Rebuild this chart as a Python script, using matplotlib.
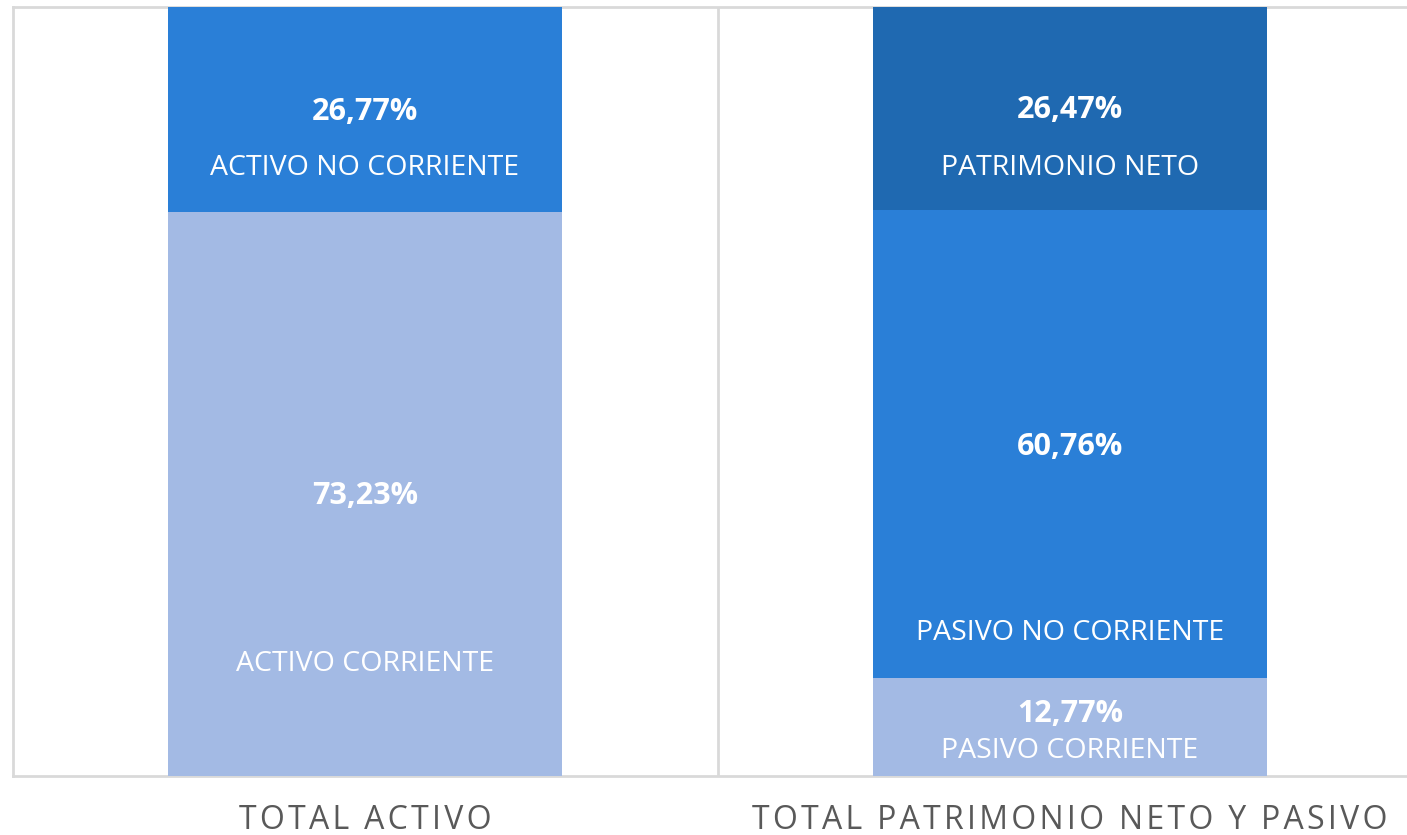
import matplotlib.pyplot as plt
import numpy as np

plt.rcParams['font.family'] = ['Open Sans', 'DejaVu Sans']

# data
categories = ['TOTAL ACTIVO', 'TOTAL PATRIMONIO NETO Y PASIVO']
bottom_vals = [73.23, 12.77]
middle_vals = [26.77, 60.76]
top_vals = [0.0, 26.47]

seg_names = [
    ['ACTIVO CORRIENTE', 'ACTIVO NO CORRIENTE', ''],
    ['PASIVO CORRIENTE', 'PASIVO NO CORRIENTE', 'PATRIMONIO NETO'],
]

c_light = '#A3BAE4'
c_mid = '#2A7FD7'
c_dark = '#1F69B1'
c_grid = '#D9D9D9'

fig = plt.figure(figsize=(14.07, 8.35), dpi=100)
ax = fig.add_axes([12.5 / 1407, 59 / 835, 1410 / 1407, 769.5 / 835])

x = np.arange(len(categories))
w = 0.559
bottom = np.array(bottom_vals)
middle = np.array(middle_vals)
top = np.array(top_vals)

ax.bar(x, bottom, width=w, color=c_light, zorder=2)
ax.bar(x, middle, width=w, bottom=bottom, color=c_mid, zorder=2)
ax.bar(x, top, width=w, bottom=bottom + middle, color=c_dark, zorder=2)

ax.set_xlim(-0.5, 1.5)
ax.set_ylim(0, 100)

# borders / separators (no right edge)
for s in ax.spines.values():
    s.set_visible(False)
ax.axhline(0, color=c_grid, lw=2, zorder=1, clip_on=False)
ax.axhline(100, color=c_grid, lw=2, zorder=1, clip_on=False)
ax.axvline(-0.5, color=c_grid, lw=2, zorder=1, clip_on=False)
ax.axvline(0.5, color=c_grid, lw=2, zorder=1)

# spaced-out category labels
spaced = ['\u200a'.join(c) for c in categories]
ax.set_yticks([])
ax.set_xticks(x)
ax.set_xticklabels(spaced, fontsize=23, color='#595959')
ax.tick_params(axis='x', length=0, pad=20)

# value labels
val_fmt = lambda v: f'{v:.2f}'.replace('.', ',') + '%'
val_kw = dict(ha='center', va='center', color='white', fontsize=22, fontweight='bold', zorder=3)
name_kw = dict(ha='center', va='center', color='white', fontsize=20.5, zorder=3)

# left bar
ax.text(0, 86.3, val_fmt(middle_vals[0]), **val_kw)
ax.text(0, 79.0, seg_names[0][1], **name_kw)
ax.text(0, 36.4, val_fmt(bottom_vals[0]), **val_kw)
ax.text(0, 14.6, seg_names[0][0], **name_kw)

# right bar
ax.text(1, 86.5, val_fmt(top_vals[1]), **val_kw)
ax.text(1, 79.0, seg_names[1][2], **name_kw)
ax.text(1, 42.8, val_fmt(middle_vals[1]), **val_kw)
ax.text(1, 18.6, seg_names[1][1], **name_kw)
ax.text(1, 8.1, val_fmt(bottom_vals[1]), **val_kw)
ax.text(1, 3.3, seg_names[1][0], **name_kw)

plt.savefig('out.png', dpi=100)
